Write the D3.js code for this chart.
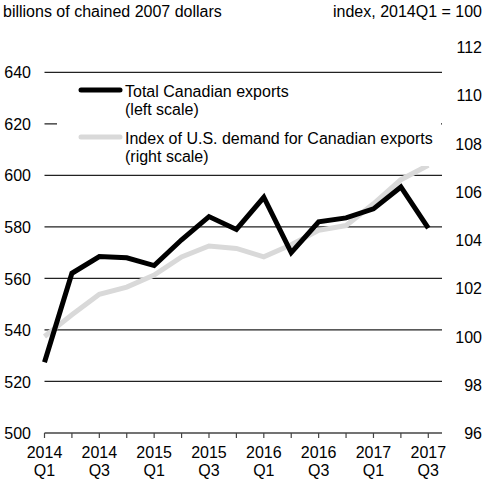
<!DOCTYPE html>
<html>
<head>
<meta charset="utf-8">
<script src="https://cdn.jsdelivr.net/npm/d3@7"></script>
<style>
  body { margin: 0; background: #fff; }
  text { font-family: "Liberation Sans", Arial, sans-serif; fill: #000; }
</style>
</head>
<body>
<div id="chart"></div>
<script>
// Quarters shown on the x axis
const quarters = ["2014Q1","2014Q2","2014Q3","2014Q4","2015Q1","2015Q2","2015Q3","2015Q4",
                  "2016Q1","2016Q2","2016Q3","2016Q4","2017Q1","2017Q2","2017Q3"];

// Total Canadian exports, billions of chained 2007 dollars (left scale)
const exportsTotal = [527.5, 562, 568.5, 568, 565, 575, 584, 579, 591.5, 570, 582, 583.5, 587, 595.5, 579.5];

// Index of U.S. demand for Canadian exports, 2014Q1 = 100 (right scale)
const usDemand = [100, 100.9, 101.75, 102.05, 102.55, 103.3, 103.75, 103.65, 103.3, 103.8, 104.4, 104.6, 105.5, 106.5, 107.1];

const leftTicks = [500, 520, 540, 560, 580, 600, 620, 640];
const rightTicks = [96, 98, 100, 102, 104, 106, 108, 110, 112];

const fontSize = 16;

// Draws the chart into the container
function draw(container) {
  const width = 485;
  const height = 485;
  const plot = {left: 44.5, right: 442, bottom: 433};

  const svg = d3.select(container).append("svg")
    .attr("width", width)
    .attr("height", height);

  // x: points one step apart, with half a step of room after the last one
  const step = (plot.right - plot.left) / (quarters.length - 0.5);
  const x = d3.scalePoint()
    .domain(quarters)
    .range([plot.left, plot.left + step * (quarters.length - 1)]);

  const yLeft = d3.scaleLinear().domain([500, 640]).range([plot.bottom, 72.3]);
  const yRight = d3.scaleLinear().domain([96, 112]).range([plot.bottom, 47]);

  // Gridlines
  svg.append("g")
    .selectAll("line")
    .data(leftTicks.slice(1))
    .join("line")
      .attr("x1", plot.left)
      .attr("x2", plot.right)
      .attr("y1", d => yLeft(d))
      .attr("y2", d => yLeft(d))
      .attr("stroke", "#222")
      .attr("stroke-width", 1.2);

  // Left axis labels
  svg.append("g")
    .call(d3.axisLeft(yLeft).tickValues(leftTicks).tickSize(0).tickPadding(0))
    .attr("transform", "translate(31,0)")
    .call(g => g.select(".domain").remove())
    .call(g => g.selectAll("text").attr("font-size", fontSize).attr("font-family", null).attr("dy", "0.35em"));

  // Right axis labels
  svg.append("g")
    .call(d3.axisRight(yRight).tickValues(rightTicks).tickSize(0).tickPadding(0))
    .attr("transform", "translate(482,0)")
    .call(g => g.select(".domain").remove())
    .call(g => g.selectAll("text").attr("text-anchor", "end").attr("font-size", fontSize).attr("font-family", null).attr("dy", "0.35em"));

  // Bottom axis with ticks below the line
  const xAxis = svg.append("g")
    .attr("transform", `translate(0,${plot.bottom})`);
  xAxis.append("line")
    .attr("x1", plot.left).attr("x2", plot.right)
    .attr("stroke", "#444").attr("stroke-width", 1.5);
  xAxis.selectAll("line.tick")
    .data(quarters)
    .join("line")
      .attr("class", "tick")
      .attr("x1", d => x(d)).attr("x2", d => x(d))
      .attr("y1", 0).attr("y2", 5)
      .attr("stroke", "#444").attr("stroke-width", 1.2);
  const lab = xAxis.selectAll("text")
    .data(quarters.filter((d, i) => i % 2 === 0))
    .join("text")
      .attr("x", d => x(d))
      .attr("text-anchor", "middle")
      .attr("font-size", fontSize);
  lab.append("tspan").attr("x", d => x(d)).attr("y", 25).text(d => d.slice(0, 4));
  lab.append("tspan").attr("x", d => x(d)).attr("y", 43).text(d => d.slice(4));

  // Series lines
  const lineLeft = d3.line().x((d, i) => x(quarters[i])).y(d => yLeft(d));
  const lineRight = d3.line().x((d, i) => x(quarters[i])).y(d => yRight(d));

  svg.append("path")
    .attr("d", lineRight(usDemand))
    .attr("fill", "none")
    .attr("stroke", "#d9d9d9")
    .attr("stroke-width", 5);

  svg.append("path")
    .attr("d", lineLeft(exportsTotal))
    .attr("fill", "none")
    .attr("stroke", "#000")
    .attr("stroke-width", 5);

  // Legend with white background
  const legend = svg.append("g");
  legend.append("rect")
    .attr("x", 57).attr("y", 78)
    .attr("width", 384).attr("height", 88)
    .attr("fill", "#fff");
  const items = [
    {color: "#000", lines: ["Total Canadian exports", "(left scale)"], y: 90},
    {color: "#d9d9d9", lines: ["Index of U.S. demand for Canadian exports", "(right scale)"], y: 137}
  ];
  for (const it of items) {
    legend.append("line")
      .attr("x1", 81).attr("x2", 120)
      .attr("y1", it.y).attr("y2", it.y)
      .attr("stroke", it.color)
      .attr("stroke-width", 5)
      .attr("stroke-linecap", "round");
    it.lines.forEach((t, i) => {
      legend.append("text")
        .attr("x", 125)
        .attr("y", it.y + 6.5 + i * 18.5)
        .attr("font-size", fontSize)
        .text(t);
    });
  }

  // Axis titles
  svg.append("text").attr("x", 3).attr("y", 17).attr("font-size", fontSize)
    .text("billions of chained 2007 dollars");
  svg.append("text").attr("x", 482).attr("y", 17).attr("font-size", fontSize)
    .attr("text-anchor", "end")
    .text("index, 2014Q1 = 100");

  return svg.node();
}

draw("#chart");
</script>
</body>
</html>
